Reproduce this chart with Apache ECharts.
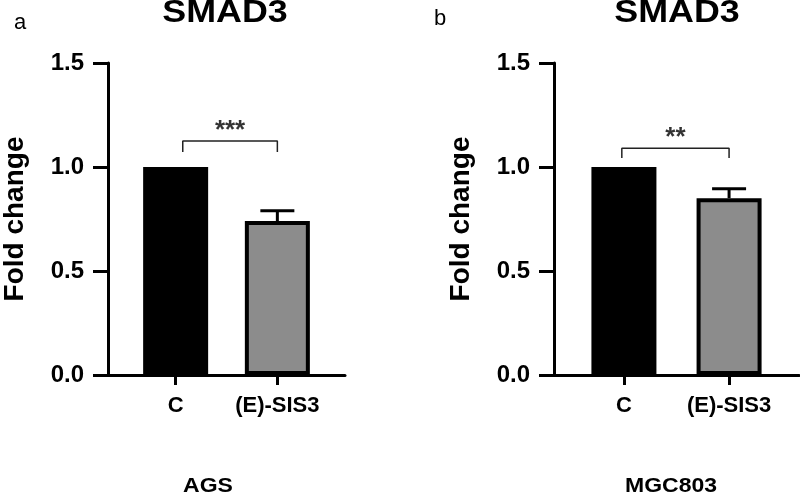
<!DOCTYPE html>
<html><head><meta charset="utf-8">
<script src="https://cdn.jsdelivr.net/npm/echarts@6/dist/echarts.min.js"></script>
<style>html,body{margin:0;padding:0;background:#fff}#c{width:800px;height:495px}</style>
</head><body><div id="c"></div>
<script>
const categories = ['C', '(E)-SIS3'];
const agsMean = [1.0, 0.74];
const agsErr = [0, 0.05];
const mgcMean = [1.0, 0.85];
const mgcErr = [0, 0.045];
const yTicks = [0, 0.5, 1.0, 1.5];
const agsBracket = [[0.07, 1.072], [0.07, 1.125], [1.0, 1.125], [1.0, 1.072]];
const mgcBracket = [[-0.02, 1.043], [-0.02, 1.09], [1.0, 1.09], [1.0, 1.043]];
const agsSig = '***';
const mgcSig = '**';
const panelTitles = ['SMAD3', 'SMAD3'];
const panelLetters = ['a', 'b'];
const cellLines = ['AGS', 'MGC803'];

const FONT = 'Liberation Sans, Arial, sans-serif';
const chart = echarts.init(document.getElementById('c'));

function xAxisFor(idx) {
  return {
    type: 'value', gridIndex: idx, min: -0.665, max: 1.665,
    axisLine: {show: true, onZero: false, lineStyle: {color: '#000', width: 3}},
    axisTick: {show: true, length: 10, lineStyle: {color: '#000', width: 3}, customValues: [0, 1]},
    axisLabel: {show: true, customValues: [0, 1], margin: 20, color: '#000', fontWeight: 'bold', fontSize: 22, fontFamily: FONT,
      formatter: v => categories[Math.round(v)]},
    splitLine: {show: false}
  };
}
function yAxisFor(idx) {
  return {
    type: 'value', gridIndex: idx, min: yTicks[0], max: yTicks[yTicks.length - 1], interval: 0.5,
    name: 'Fold change', nameLocation: 'middle', nameGap: 79, nameRotate: 90,
    nameTextStyle: {color: '#000', fontWeight: 'bold', fontSize: 28, fontFamily: FONT},
    axisLine: {show: true, onZero: false, lineStyle: {color: '#000', width: 3}},
    axisTick: {show: true, length: 15, lineStyle: {color: '#000', width: 3}},
    axisLabel: {margin: 24, color: '#000', fontWeight: 'bold', fontSize: 24, fontFamily: FONT, formatter: v => v.toFixed(1)},
    splitLine: {show: false}
  };
}
function barData(means) {
  return means.map((m, i) => ({
    value: [i, m],
    itemStyle: i === 0 ? {color: '#000', borderColor: '#000', borderWidth: 4} : {color: '#8c8c8c', borderColor: '#000', borderWidth: 4}
  }));
}
function errSeries(idx, means, errs) {
  return {
    type: 'custom', xAxisIndex: idx, yAxisIndex: idx, z: 1,
    data: means.map((m, i) => [i, m, errs[i]]).filter(d => d[2] > 0),
    renderItem: (params, api) => {
      const x = api.value(0), m = api.value(1), e = api.value(2);
      const p0 = api.coord([x, m]);
      const p1 = api.coord([x, m + e]);
      const cap = 17;
      return {type: 'group', children: [
        {type: 'line', shape: {x1: p0[0], y1: p0[1], x2: p1[0], y2: p1[1]}, style: {stroke: '#000', lineWidth: 3}},
        {type: 'line', shape: {x1: p1[0] - cap, y1: p1[1], x2: p1[0] + cap, y2: p1[1]}, style: {stroke: '#000', lineWidth: 3}}
      ]};
    }
  };
}
function bracketSeries(idx, pts, sig, labelY) {
  return [{
    type: 'line', xAxisIndex: idx, yAxisIndex: idx, data: pts, symbol: 'none', silent: true,
    lineStyle: {color: '#222', width: 1.5}, z: 3
  }, {
    type: 'scatter', xAxisIndex: idx, yAxisIndex: idx, symbolSize: 0, silent: true,
    data: [[(pts[1][0] + pts[2][0]) / 2, labelY]],
    label: {show: true, position: 'inside', formatter: sig, color: '#000', fontWeight: 'bold', fontSize: 26, fontFamily: FONT}
  }];
}
function txt(x, y, text, font, align, vAlign, sx) {
  return {type: 'text', x: x, y: y, scaleX: sx, style: {text: text, font: font, fill: '#000', align: align, verticalAlign: vAlign}};
}

const option = {
  animation: false,
  backgroundColor: '#fff',
  grid: [
    {left: 103, top: 63, width: 242, height: 312},
    {left: 554, top: 63, width: 245, height: 312}
  ],
  xAxis: [xAxisFor(0), xAxisFor(1)],
  yAxis: [yAxisFor(0), yAxisFor(1)],
  series: [
    {type: 'bar', xAxisIndex: 0, yAxisIndex: 0, barWidth: 65, data: barData(agsMean), z: 2},
    errSeries(0, agsMean, agsErr),
    ...bracketSeries(0, agsBracket, agsSig, 1.175),
    {type: 'bar', xAxisIndex: 1, yAxisIndex: 1, barWidth: 65, data: barData(mgcMean), z: 2},
    errSeries(1, mgcMean, mgcErr),
    ...bracketSeries(1, mgcBracket, mgcSig, 1.14)
  ],
  graphic: [
    txt(225, -3, panelTitles[0], 'bold 32px ' + FONT, 'center', 'top', 1.12),
    txt(677, -3, panelTitles[1], 'bold 32px ' + FONT, 'center', 'top', 1.12),
    txt(14, 12, panelLetters[0], '22px ' + FONT, 'left', 'top', 1),
    txt(434, 8, panelLetters[1], '22px ' + FONT, 'left', 'top', 1),
    txt(208, 486, cellLines[0], 'bold 20px ' + FONT, 'center', 'middle', 1.15),
    txt(671, 486, cellLines[1], 'bold 20px ' + FONT, 'center', 'middle', 1.15)
  ]
};
chart.setOption(option);
</script></body></html>
